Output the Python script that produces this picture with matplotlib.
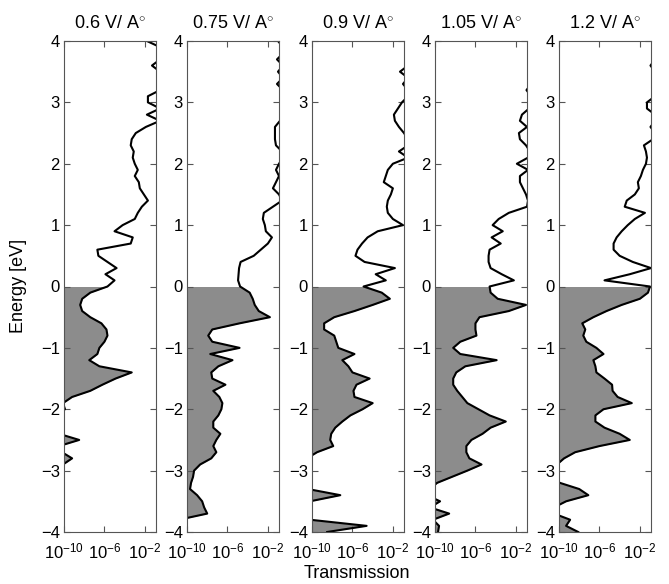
import numpy as np
import matplotlib
matplotlib.use('Agg')
import matplotlib.pyplot as plt

plt.rcParams['font.family'] = 'Liberation Sans'
plt.rcParams['mathtext.fontset'] = 'custom'
plt.rcParams['mathtext.rm'] = 'Liberation Sans'
plt.rcParams['mathtext.it'] = 'Liberation Sans:italic'

# energy grid (eV), top to bottom
energy = np.linspace(4, -4, 81)

fields = ['0.6', '0.75', '0.9', '1.05', '1.2']

# log10 of transmission at each energy
log_t_06 = [-1.8, -0.5, -0.5, -0.5, -1.3, -0.5, -0.5, -0.5, -0.5, -1.7,
            -1.7, -0.5, -1.8, -0.5, -1.9, -2.9, -3.3, -3.4, -3.1, -3.2,
            -3.0, -2.7, -3.0, -2.6, -2.5, -2.1, -1.7, -2.3, -2.7, -3.0,
            -4.2, -5.0, -3.2, -3.4, -6.7, -6.6, -5.7, -4.8, -5.9, -5.0,
            -5.7, -7.4, -8.2, -8.4, -8.2, -7.4, -6.3, -5.8, -5.7, -6.0,
            -6.5, -6.7, -7.5, -6.5, -3.3, -4.9, -6.2, -7.4, -9.2, -10.1,
            -9.9, -11, -11, -11, -10.5, -8.5, -10.5, -10.2, -9.2, -10.1,
            -11, -11, -11, -11, -11, -11, -11, -11, -11, -11, -11]

log_t_075 = [-1.0, -0.5, -0.5, -1.1, -0.5, -1.0, -0.5, -1.1, -0.5, -0.5,
             -0.5, -0.5, -0.5, -0.8, -1.3, -1.3, -1.3, -1.2, -0.6, -0.5,
             -0.9, -1.2, -0.9, -1.2, -1.5, -0.9, -0.6, -1.5, -2.4, -2.5,
             -2.3, -2.2, -1.6, -2.0, -2.7, -3.4, -4.7, -4.85, -4.9, -4.95,
             -4.75, -3.8, -3.5, -3.3, -2.9, -1.8, -4.8, -7.5, -7.9, -7.5,
             -4.8, -7.7, -5.5, -6.9, -7.6, -7.5, -6.2, -7.4, -6.8, -6.5,
             -6.6, -6.9, -7.4, -7.4, -6.7, -7.1, -7.4, -7.1, -7.6, -8.7,
             -9.3, -9.4, -9.6, -9.7, -9.0, -8.5, -8.3, -8.0, -10.8, -11, -11]

log_t_09 = [-0.5, -0.5, -0.5, -0.5, -0.5, -1.3, -0.5, -1.0, -0.5, -0.5,
            -1.1, -1.5, -1.9, -1.8, -1.4, -0.9, -0.5, -0.5, -1.4, -0.5,
            -2.0, -2.5, -2.7, -2.9, -2.0, -2.2, -2.5, -2.6, -2.5, -2.0,
            -1.0, -3.5, -4.5, -5.05, -5.5, -5.7, -4.8, -1.8, -3.7, -2.7,
            -4.9, -3.1, -2.3, -4.0, -5.8, -7.8, -8.8, -8.8, -7.8, -7.6,
            -7.4, -5.8, -7.0, -6.4, -6.0, -4.3, -5.6, -5.9, -5.8, -4.0,
            -5.0, -6.2, -7.0, -7.7, -8.1, -8.2, -7.9, -9.5, -10.5, -11,
            -11, -11, -11, -10.4, -7.2, -10.2, -11, -11, -10.2, -4.6, -8.5]

log_t_105 = [-0.5, -0.5, -0.5, -0.5, -0.5, -0.5, -0.5, -0.5, -0.95, -0.5,
             -0.5, -0.7, -1.4, -1.6, -0.9, -1.7, -1.6, -1.0, -0.6, -0.8,
             -1.9, -0.8, -1.6, -1.6, -1.3, -1.0, -0.8, -0.9, -2.7, -3.7,
             -4.3, -3.3, -4.4, -3.5, -4.6, -4.7, -4.7, -4.5, -3.4, -2.2,
             -4.6, -4.5, -3.8, -1.0, -2.7, -5.6, -6.0, -6.0, -5.9, -7.5,
             -8.2, -7.5, -3.9, -7.0, -7.9, -8.2, -8.2, -7.8, -7.3, -6.8,
             -5.7, -4.6, -3.0, -4.5, -5.3, -6.4, -6.9, -6.9, -6.6, -5.4,
             -6.8, -8.3, -9.8, -10.5, -10.8, -9.5, -10.5, -8.6, -10.2, -9.6, -9.7]

log_t_12 = [-0.5, -0.5, -0.5, -0.5, -0.95, -0.5, -0.5, -0.5, -0.5, -0.5,
            -1.3, -1.3, -0.5, -0.5, -0.95, -0.5, -0.7, -1.6, -1.4, -1.3,
            -1.4, -1.7, -1.9, -2.2, -2.1, -2.5, -3.3, -3.5, -1.5, -2.5,
            -3.2, -3.8, -4.3, -4.6, -4.6, -4.0, -2.7, -0.9, -3.0, -5.5,
            -1.0, -1.2, -2.0, -3.8, -5.3, -6.6, -7.7, -7.4, -7.6, -7.3,
            -6.3, -5.6, -6.6, -6.4, -6.3, -5.5, -4.75, -4.7, -4.2, -2.8,
            -5.6, -6.4, -6.4, -5.5, -4.0, -3.0, -6.0, -8.4, -9.5, -10.2,
            -11, -11, -9.9, -8.0, -7.1, -9.3, -10.5, -10.5, -8.9, -9.3, -8.1]

curves = [log_t_06, log_t_075, log_t_09, log_t_105, log_t_12]

W, H = 669, 584
fig = plt.figure(figsize=(W / 100, H / 100), dpi=100)

lefts = [64, 187, 312, 435, 559]
edge = '#555555'

for left, field, log_t in zip(lefts, fields, curves):
    ax = fig.add_axes([left / W, 52 / H, 92 / W, 491 / H])
    t = 10.0 ** np.array(log_t)
    occ = energy <= 0
    # occupied states shaded from the left edge out to the curve
    ax.fill_betweenx(energy[occ], 1e-14, t[occ], color='#8c8c8c', lw=0)
    ax.plot(t, energy, color='k', lw=1.5)

    ax.set_xscale('log')
    ax.set_xlim(1e-10, 10 ** -0.9)
    ax.set_ylim(-4, 4)
    ax.set_xticks([1e-10, 1e-6, 1e-2])
    ax.xaxis.set_minor_locator(matplotlib.ticker.NullLocator())
    ax.set_yticks(range(-4, 5))
    ax.tick_params(direction='in', top=True, right=True, length=4,
                   width=0.8, color=edge, labelsize=12)
    ax.tick_params(axis='x', pad=7)
    ax.tick_params(axis='y', pad=3)
    for sp in ax.spines.values():
        sp.set_color(edge)
        sp.set_linewidth(0.8)
    ax.set_title(field + r' V/ A$^{\circ}$', fontsize=13, pad=9)

fig.text(19 / W, 1 - 286 / H, 'Energy [eV]', rotation=90,
         ha='center', va='center', fontsize=13)
fig.text(357 / W, 1 - 573 / H, 'Transmission', ha='center', va='center',
         fontsize=13)

fig.savefig('out.png', dpi=100)
